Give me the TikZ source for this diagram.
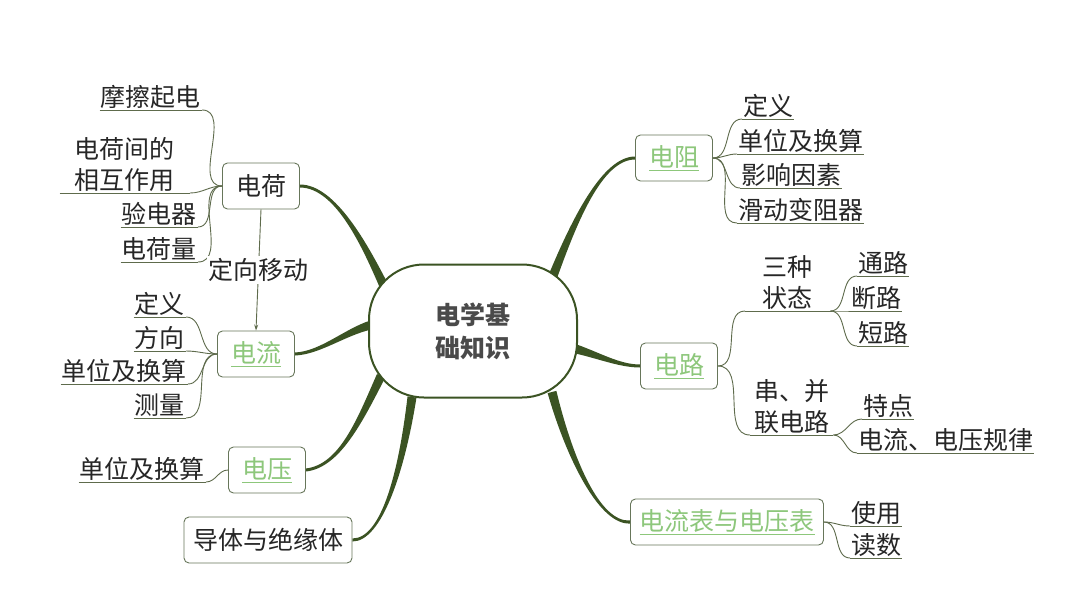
\documentclass[tikz,border=0pt]{standalone}
\usepackage{fontspec}
\setmainfont{Noto Sans CJK SC}
\usepackage{xcolor}
\usepackage{tikz}
\usetikzlibrary{calc,arrows.meta,backgrounds}
\definecolor{bg}{HTML}{FFFFFF}
\definecolor{ink}{HTML}{262626}
\definecolor{hubink}{HTML}{4A4A4A}
\definecolor{trunkc}{HTML}{3B5323}
\definecolor{frame}{HTML}{67765A}
\definecolor{twigc}{HTML}{5E6B4C}
\definecolor{linkc}{HTML}{8DC77B}
\tikzset{
  hub/.style={draw=trunkc, line width=2pt, rounded corners=55pt, fill=bg, minimum width=208pt, minimum height=133pt, text=hubink, align=center, font=\fontsize{25}{33}\selectfont\bfseries},
  topic/.style={draw=frame, line width=0.9pt, rounded corners=5pt, fill=bg, minimum width=77pt, minimum height=46pt, inner xsep=9pt, text=ink, font=\fontsize{25}{30}\selectfont},
  link/.style={topic, text=linkc},
  twig/.style={draw=twigc, line width=0.9pt},
  flow/.style={twig, -{Stealth[length=6pt,width=4pt]}},
  leaf/.style={text=ink, font=\fontsize{25}{31}\selectfont, inner xsep=1pt, inner ysep=1.5pt, align=center, append after command={(\tikzlastnode.south west) edge[twig] (\tikzlastnode.south east)}},
  leafl/.style={leaf, anchor=south east},
  leafr/.style={leaf, anchor=south west},
  trunk/.style={fill=trunkc}
}
\newcommand{\trunk}[4]{%
  \fill[trunk] ($(#1)!4.5pt!90:(#2)$)
    .. controls ($(#2)!3pt!-90:(#1)$) and ($(#3)!1.5pt!90:(#4)$)
    .. ($(#4)!1.5pt!-90:(#3)$)
    -- ($(#4)!1.5pt!90:(#3)$)
    .. controls ($(#3)!1.5pt!-90:(#4)$) and ($(#2)!3pt!90:(#1)$)
    .. ($(#1)!4.5pt!-90:(#2)$) -- cycle;}

\begin{document}
\begin{tikzpicture}[x=1pt, y=-1pt]
  \useasboundingbox (0,0) rectangle (1066,600);

  \node[hub] (hub) at (473,331) {电学基\\础知识};
  \coordinate (h1) at (384,286);
  \coordinate (h2) at (371,325);
  \coordinate (h3) at (381,376);
  \coordinate (h4) at (412,397);
  \coordinate (h5) at (553,276);
  \coordinate (h6) at (576,349);
  \coordinate (h7) at (552,392);

  \node[topic] (charge) at (261,186) {电荷};
  \node[link] (current) at (256,354) {\underline{电流}};
  \node[link] (voltage) at (267,470) {\underline{电压}};
  \node[topic] (conductor) at (268,540) {导体与绝缘体};
  \node[link] (resist) at (674,158) {\underline{电阻}};
  \node[link] (circuit) at (679,366) {\underline{电路}};
  \node[link] (meter) at (727,522) {\underline{电流表与电压表}};

  \begin{scope}[on background layer]
    \fill[bg] (0,0) rectangle (1066,600);
    \trunk{h1}{366,248}{336,186}{charge.east}
    \trunk{h2}{345,332}{320,353}{current.east}
    \trunk{h3}{360,420}{340,466}{voltage.east}
    \trunk{h4}{402,470}{382,540}{conductor.east}
    \trunk{h5}{574,222}{602,158}{resist.west}
    \trunk{h6}{600,356}{620,366}{circuit.west}
    \trunk{h7}{570,460}{600,524}{meter.west}
  \end{scope}

  \node[leafl] (fric) at (202,110) {摩擦起电};
  \node[leafl, minimum width=130pt] (inter) at (190,193) {电荷间的\\相互作用};
  \node[leafl] (scope) at (198,227) {验电器};
  \node[leafl] (qty) at (198,262) {电荷量};
  \foreach \n in {fric,inter,scope,qty}
    \draw[twig] (charge.west) to[out=180,in=0] (\n.south east);

  \draw[flow] (charge.south) -- node[fill=bg, inner sep=2pt, text=ink, font=\fontsize{25}{30}\selectfont] (move) {定向移动} (current.north);

  \node[leafl] (cdef) at (186,317) {定义};
  \node[leafl] (cdir) at (186,351) {方向};
  \node[leafl] (cunit) at (188,384) {单位及换算};
  \node[leafl] (cmeas) at (186,418) {测量};
  \foreach \n in {cdef,cdir,cunit,cmeas}
    \draw[twig] (current.west) to[out=180,in=0] (\n.south east);

  \node[leafl] (vunit) at (206,482) {单位及换算};
  \draw[twig] (voltage.west) to[out=180,in=0] (vunit.south east);

  \node[leafr] (rdef) at (742,119) {定义};
  \node[leafr] (runit) at (737,154) {单位及换算};
  \node[leafr] (rfac) at (740,188) {影响因素};
  \node[leafr] (rheo) at (737,223) {滑动变阻器};
  \foreach \n in {rdef,runit,rfac,rheo}
    \draw[twig] (resist.east) to[out=0,in=180] (\n.south west);

  \node[leafr, minimum width=85pt] (states) at (745,311) {三种\\状态};
  \node[leafr, minimum width=83pt] (series) at (750,435) {串、并\\联电路};
  \foreach \n in {states,series}
    \draw[twig] (circuit.east) to[out=0,in=180] (\n.south west);

  \node[leafr] (closed) at (857,276) {通路};
  \node[leafr] (open) at (850,311) {断路};
  \node[leafr] (short) at (857,346) {短路};
  \foreach \n in {closed,open,short}
    \draw[twig] (states.south east) to[out=0,in=180] (\n.south west);

  \node[leafr] (feat) at (862,419) {特点};
  \node[leafr] (law) at (857,453) {电流、电压规律};
  \foreach \n in {feat,law}
    \draw[twig] (series.south east) to[out=0,in=180] (\n.south west);

  \node[leafr] (use) at (850,526) {使用};
  \node[leafr] (read) at (850,558) {读数};
  \foreach \n in {use,read}
    \draw[twig] (meter.east) to[out=0,in=180] (\n.south west);
\end{tikzpicture}
\end{document}
